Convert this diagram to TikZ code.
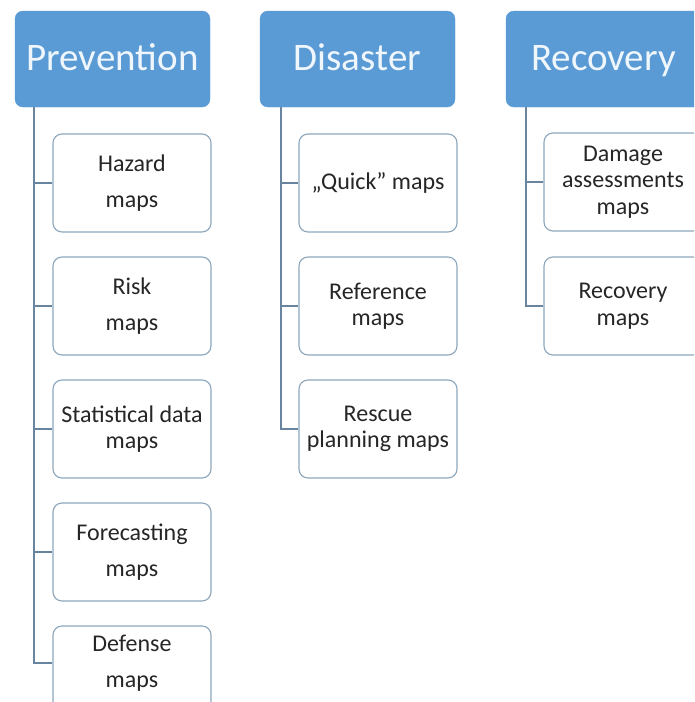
\documentclass[tikz,border=0pt]{standalone}
\usepackage{fontspec}
\setmainfont{Carlito}
\definecolor{hdrfill}{RGB}{91,155,213}
\definecolor{hdrtext}{RGB}{240,247,252}
\definecolor{boxline}{RGB}{140,166,188}
\definecolor{conn}{RGB}{105,132,158}
\definecolor{txt}{RGB}{38,38,38}
\tikzset{
  hdr/.style={draw=hdrfill, fill=hdrfill, rounded corners=8pt, minimum width=195pt, minimum height=96pt,
    inner sep=0pt, text height=28pt, text depth=6pt, text=hdrtext, font=\fontsize{39}{42}\selectfont},
  itembox/.style={draw=boxline, line width=1.1pt, fill=white, rounded corners=9pt, minimum width=158pt,
    minimum height=98pt, inner sep=0pt, align=center, text=txt, font=\fontsize{24}{26.5}\selectfont},
  itemtext/.style={inner sep=0pt, align=center, text=txt, font=\fontsize{24}{26.5}\selectfont},
  link/.style={draw=conn, line width=1.1pt}
}
\begin{document}
\begin{tikzpicture}[x=1pt,y=-1pt]
\useasboundingbox (0,0) rectangle (694,702);
\clip (0,0) rectangle (694,702);
\fill[white] (0,0) rectangle (694,702);
% headers
\node[hdr] (hp) at (112.5,59) {Prevention};
\node[hdr] (hd) at (357.5,59) {Disaster};
\node[hdr] (hr) at (603.5,59) {Recovery};
% spine coordinates
\coordinate (sp) at (34,107);
\coordinate (sd) at (281,107);
\coordinate (sr) at (526,107);
% Prevention items
\node[itembox] (p1) at (132,183) {Hazard\\[10pt]maps};
\node[itembox] (p2) at (132,306) {Risk\\[10pt]maps};
\node[itembox] (p3) at (132,429) {Statistical data\\maps};
\node[itembox] (p4) at (132,552) {Forecasting\\[10pt]maps};
\node[itembox] (p5) at (132,675) {};
\node[itemtext] (p5t) at (132,663) {Defense\\[10pt]maps};
% Disaster items
\node[itembox] (d1) at (378,183) {„Quick” maps};
\node[itembox] (d2) at (378,306) {Reference\\maps};
\node[itembox] (d3) at (378,429) {Rescue\\planning maps};
% Recovery items
\node[itembox] (r1) at (623,182) {Damage\\assessments\\maps};
\node[itembox] (r2) at (623,306) {Recovery\\maps};
% connectors
\draw[link] (sp) -- (sp |- p5t.west) -- (p5.west |- p5t.west);
\foreach \n in {p1,p2,p3,p4} \draw[link] (\n.west) -- (\n.west -| sp);
\draw[link] (sd) |- (d3.west);
\foreach \n in {d1,d2} \draw[link] (\n.west) -- (\n.west -| sd);
\draw[link] (sr) |- (r2.west);
\draw[link] (r1.west) -- (r1.west -| sr);
\end{tikzpicture}
\end{document}
